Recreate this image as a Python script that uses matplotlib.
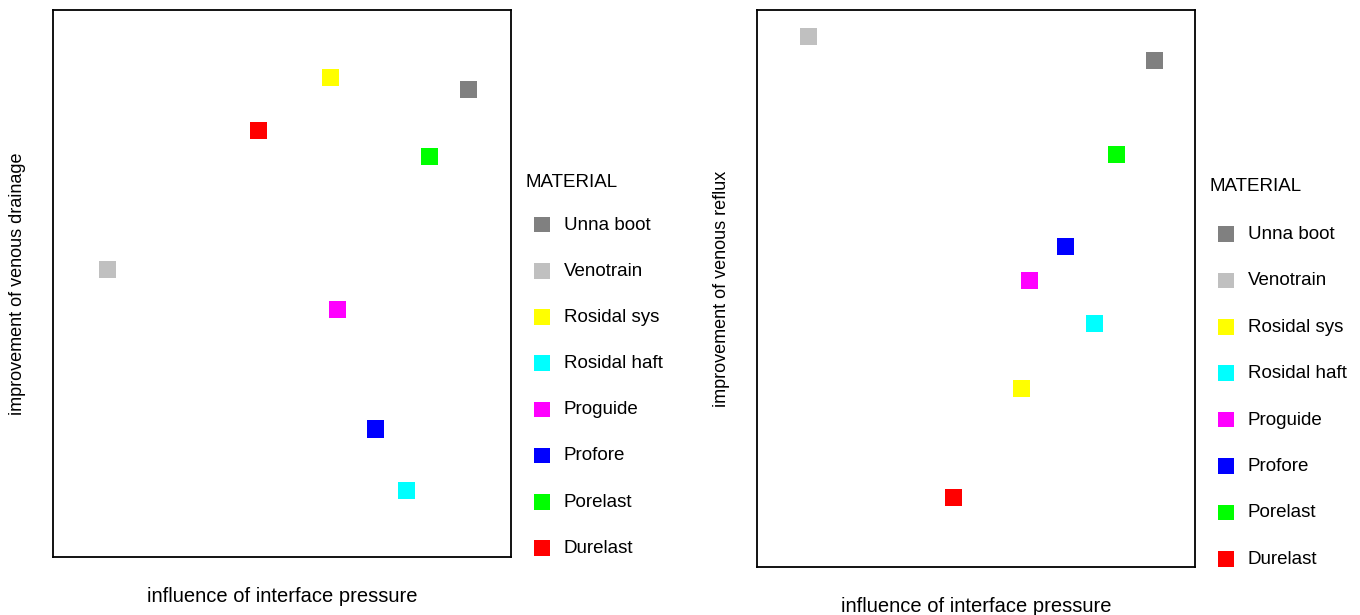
import matplotlib
matplotlib.use("Agg")
import matplotlib.pyplot as plt

plt.rcParams['font.family'] = ['Liberation Sans', 'DejaVu Sans']

materials = ["Unna boot", "Venotrain", "Rosidal sys", "Rosidal haft",
             "Proguide", "Profore", "Porelast", "Durelast"]
colors = ["#808080", "#c0c0c0", "#ffff00", "#00ffff",
          "#ff00ff", "#0000ff", "#00ff00", "#ff0000"]

pressure = [90.7, 11.8, 60.5, 77.1, 62.2, 70.4, 82.1, 44.8]
drainage = [85.4, 52.5, 87.6, 12.2, 45.2, 23.4, 73.3, 77.9]
reflux = [91.0, 95.2, 32.0, 43.8, 51.5, 57.5, 74.0, 12.4]

W, H = 1360, 615
fig = plt.figure(figsize=(W / 100, H / 100), dpi=100)

def px_axes(x0, y0, x1, y1):
    return fig.add_axes([x0 / W, 1 - y1 / H, (x1 - x0) / W, (y1 - y0) / H])

FS = 13.5

panels = [
    dict(box=(53, 10, 511, 557), y=drainage, ylabel="improvement of venous drainage",
         xlab_y=596, ylab_x=18, leg_x=516, leg_y=165, sep=18, ls=1.55),
    dict(box=(757, 10, 1195, 567), y=reflux, ylabel="improvement of venous reflux",
         xlab_y=606, ylab_x=722, leg_x=1200, leg_y=169, sep=22, ls=1.56),
]

for p in panels:
    x0, y0, x1, y1 = p['box']
    ax = px_axes(x0, y0, x1, y1)
    for m, c, xv, yv in zip(materials, colors, pressure, p['y']):
        ax.scatter([xv], [yv], marker='s', s=150, color=c, edgecolors='none', label=m)
    ax.set_xlim(0, 100)
    ax.set_ylim(0, 100)
    ax.set_xticks([])
    ax.set_yticks([])
    for sp in ax.spines.values():
        sp.set_linewidth(1.3)
        sp.set_color('black')
    cx = (x0 + x1) / 2
    cy = (y0 + y1) / 2
    fig.text(cx / W, 1 - p['xlab_y'] / H, "influence of interface pressure",
             ha='center', va='center', fontsize=14.5)
    fig.text(p['ylab_x'] / W, 1 - cy / H, p['ylabel'], rotation=90,
             ha='center', va='center', fontsize=13)
    leg = ax.legend(loc='upper left', bbox_to_anchor=(p['leg_x'] / W, 1 - p['leg_y'] / H),
                    bbox_transform=fig.transFigure, frameon=False, title="MATERIAL",
                    fontsize=FS, title_fontsize=FS, labelspacing=p['ls'],
                    handletextpad=0.3, handlelength=1.75, borderpad=0,
                    alignment='left', markerscale=0.92)
    leg._legend_box.sep = p['sep']

fig.savefig("out.png", dpi=100)
